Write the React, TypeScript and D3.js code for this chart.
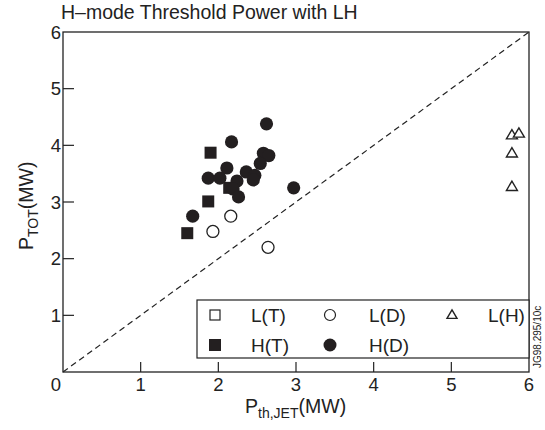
import React from "react";
import * as d3 from "d3";

const xTicks = [0, 1, 2, 3, 4, 5, 6];
const yTicks = [0, 1, 2, 3, 4, 5, 6];

const hdX = [2.62, 2.17, 2.58, 2.65, 2.54, 2.11, 1.87, 2.02, 2.36, 2.47, 2.24, 2.45, 2.19, 2.26, 2.97, 1.67];
const hdY = [4.38, 4.06, 3.86, 3.82, 3.68, 3.6, 3.42, 3.42, 3.53, 3.47, 3.37, 3.39, 3.23, 3.09, 3.25, 2.75];

const htX = [1.9, 1.87, 1.6, 2.14];
const htY = [3.87, 3.01, 2.45, 3.25];

const ldX = [1.93, 2.16, 2.64];
const ldY = [2.48, 2.75, 2.2];

const lhX = [5.78, 5.87, 5.78, 5.78];
const lhY = [4.18, 4.21, 3.86, 3.27];

const legendRow1 = ["L(T)", "L(D)", "L(H)"];
const legendRow2 = ["H(T)", "H(D)"];

const FONT = "Liberation Sans, Arial, Helvetica, sans-serif";

export default function App() {
  const W = 545, H = 430;
  const x = d3.scaleLinear().domain([0, 6]).range([63, 529]);
  const y = d3.scaleLinear().domain([0, 6]).range([372, 32]);

  const tri = (cx: number, cy: number, s: number) => {
    const h = s * 0.85;
    return `M${cx},${cy - h * 0.6}L${cx + s / 2},${cy + h * 0.4}L${cx - s / 2},${cy + h * 0.4}Z`;
  };

  return (
    <svg width={W} height={H} style={{ position: "absolute", left: 0, top: 0, background: "#fff" }} fontFamily={FONT}>
      <rect x={0} y={0} width={W} height={H} fill="#fff" />
      <text x={61} y={19} fontSize={19.5} fill="#222">H–mode Threshold Power with LH</text>

      {/* dashed diagonal */}
      <line x1={x(0)} y1={y(0)} x2={x(6)} y2={y(6)} stroke="#222" strokeWidth={1.2} strokeDasharray="6,4" />

      {/* frame */}
      <rect x={x(0)} y={y(6)} width={x(6) - x(0)} height={y(0) - y(6)} fill="none" stroke="#222" strokeWidth={1.3} />

      {/* ticks */}
      {xTicks.slice(1, 6).map((t) => (
        <line key={"xt" + t} x1={x(t)} x2={x(t)} y1={y(0)} y2={y(0) - 10} stroke="#222" strokeWidth={1.2} />
      ))}
      {yTicks.slice(1, 6).map((t) => (
        <line key={"yt" + t} x1={x(0)} x2={x(0) + 11} y1={y(t)} y2={y(t)} stroke="#222" strokeWidth={1.2} />
      ))}
      {xTicks.slice(1).map((t) => (
        <text key={"xl" + t} x={x(t)} y={391} fontSize={18.5} textAnchor="middle" fill="#222">{t}</text>
      ))}
      <text x={56} y={391} fontSize={18.5} textAnchor="middle" fill="#222">0</text>
      {yTicks.slice(1).map((t) => (
        <text key={"yl" + t} x={61} y={y(t) + 6.5} fontSize={18.5} textAnchor="end" fill="#222">{t}</text>
      ))}

      {/* axis labels */}
      <text x={245} y={413} fontSize={19.5} fill="#222">
        P<tspan fontSize={14} dy={5}>th,JET</tspan><tspan dy={-5}>(MW)</tspan>
      </text>
      <text transform="translate(33,250) rotate(-90)" fontSize={19.5} fill="#222">
        P<tspan fontSize={14} dy={5}>TOT</tspan><tspan dy={-5}>(MW)</tspan>
      </text>

      {/* data */}
      {ldX.map((v, i) => (
        <circle key={"ld" + i} cx={x(v)} cy={y(ldY[i])} r={6} fill="#fff" stroke="#222" strokeWidth={1.3} />
      ))}
      {htX.map((v, i) => (
        <rect key={"ht" + i} x={x(v) - 6} y={y(htY[i]) - 6} width={12} height={12} fill="#231f20" />
      ))}
      {hdX.map((v, i) => (
        <circle key={"hd" + i} cx={x(v)} cy={y(hdY[i])} r={6.6} fill="#231f20" />
      ))}
      {lhX.map((v, i) => (
        <path key={"lh" + i} d={tri(x(v), y(lhY[i]), 11)} fill="#fff" stroke="#222" strokeWidth={1.4} />
      ))}

      {/* legend */}
      <rect x={197} y={300} width={x(6) - 197} height={58} fill="#fff" stroke="#222" strokeWidth={1.2} />
      <rect x={210} y={310} width={10} height={10} fill="#fff" stroke="#222" strokeWidth={1.2} />
      <circle cx={330} cy={315} r={5.5} fill="#fff" stroke="#222" strokeWidth={1.2} />
      <path d={tri(452, 315, 10)} fill="#fff" stroke="#222" strokeWidth={1.4} />
      <rect x={209} y={339} width={12} height={12} fill="#231f20" />
      <circle cx={330} cy={345} r={6.5} fill="#231f20" />
      {legendRow1.map((s, i) => (
        <text key={"l1" + s} x={[251, 369, 488][i]} y={322} fontSize={19} fill="#222">{s}</text>
      ))}
      {legendRow2.map((s, i) => (
        <text key={"l2" + s} x={[251, 369][i]} y={352} fontSize={19} fill="#222">{s}</text>
      ))}

      <text transform="translate(541,368) rotate(-90)" fontSize={10} fill="#222">JG98.295/10c</text>
    </svg>
  );
}
